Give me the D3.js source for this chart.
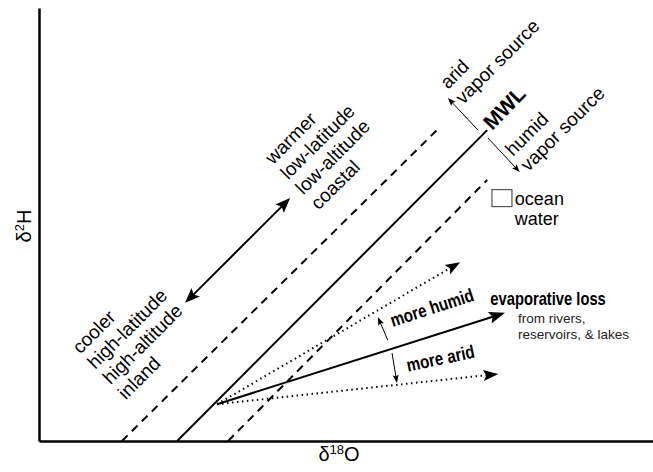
<!DOCTYPE html>
<html>
<head>
<meta charset="utf-8">
<script src="https://cdn.jsdelivr.net/npm/d3@7"></script>
<style>
  body { margin: 0; background: #fff; }
</style>
</head>
<body>
<div id="chart"></div>
<script>
// schematic chart, both axes in arbitrary units 0-100
const mwlLine = [[22.5, 0], [73.0, 71.8]];
const dashedUpper = [[13.5, 0], [65.3, 72.5]];
const dashedLower = [[30.8, 0], [73.0, 60.3]];

const evapOrigin = [29.0, 8.5];
const evapEnd = [75.9, 29.6];
const humidEnd = [68.6, 41.3];
const aridEnd = [74.8, 15.5];

const tempArrow = [[23.8, 31.9], [40.9, 56.1]];
const sourceArrows = [
  [[71.5, 71.8], [66.6, 79.2]],
  [[73.1, 70.0], [78.3, 62.1]]
];
const shiftArrows = [
  [[56.8, 23.3], [55.2, 28.6]],
  [[57.5, 20.3], [58.3, 13.4]]
];
const oceanWater = [75.4, 56.1];

// labels rotated along the MWL direction
const diagLabels = [
  { at: [38.1, 63.7], lines: ['warmer', 'low-latitude', 'low-altitude', 'coastal'] },
  { at: [6.7, 19.9], lines: ['cooler', 'high-latitude', 'high-altitude', 'inland'] },
  { at: [66.6, 81.1], lines: ['arid', 'vapor source'] },
  { at: [77.2, 65.6], lines: ['humid', 'vapor source'] }
];
const mwlLabel = { at: [73.8, 71.6], text: 'MWL' };
const shiftLabels = [
  { at: [57.6, 26.3], angle: -18, text: 'more humid' },
  { at: [60.1, 16.0], angle: -12, text: 'more arid' }
];
const oceanLabel = { at: [77.5, 54.5], lines: ['ocean', 'water'] };
const evapLabel = { at: [73.5, 31.4], text: 'evaporative loss' };
const evapNote = { at: [78.0, 27.3], lines: ['from rivers,', 'reservoirs, & lakes'] };

const width = 653, height = 472;
const margin = { left: 39, top: 8, right: 0, bottom: 31 };

const svg = d3.select('#chart').append('svg')
  .attr('width', width)
  .attr('height', height);

const x = d3.scaleLinear().domain([0, 100]).range([margin.left, width - margin.right]);
const y = d3.scaleLinear().domain([0, 100]).range([height - margin.bottom, margin.top]);
const P = d => [x(d[0]), y(d[1])];

const sans = "'Liberation Sans', Arial, sans-serif";
const squeeze = 0.82; // condensed look for the bold labels

// axes, no ticks
svg.append('g')
  .attr('transform', `translate(${margin.left},0)`)
  .call(d3.axisLeft(y).tickValues([]).tickSizeOuter(0))
  .select('.domain').attr('stroke', '#000').attr('stroke-width', 2.5);
svg.append('g')
  .attr('transform', `translate(0,${height - margin.bottom})`)
  .call(d3.axisBottom(x).tickValues([]).tickSizeOuter(0))
  .select('.domain').attr('stroke', '#000').attr('stroke-width', 2.5);

// axis titles
const yt = svg.append('text')
  .attr('transform', 'translate(31,226) rotate(-90)')
  .attr('text-anchor', 'middle')
  .attr('font-family', sans).attr('font-size', 20);
yt.append('tspan').text('δ');
yt.append('tspan').attr('dy', -7).attr('font-size', 13).text('2');
yt.append('tspan').attr('dy', 7).text('H');

const xt = svg.append('text')
  .attr('x', 339).attr('y', 461)
  .attr('text-anchor', 'middle')
  .attr('font-family', sans).attr('font-size', 20);
xt.append('tspan').text('δ');
xt.append('tspan').attr('dy', -7).attr('font-size', 13).text('18');
xt.append('tspan').attr('dy', 7).text('O');

const line = d3.line().x(d => x(d[0])).y(d => y(d[1]));

// MWL and dashed envelope
svg.append('path').attr('d', line(mwlLine))
  .attr('stroke', '#000').attr('stroke-width', 2).attr('fill', 'none');
[dashedUpper, dashedLower].forEach(l => {
  svg.append('path').attr('d', line(l))
    .attr('stroke', '#000').attr('stroke-width', 2).attr('fill', 'none')
    .attr('stroke-dasharray', '8,6');
});

// arrow helper: line from a to b, head at b (and optionally a)
function arrow(a, b, opt) {
  const p0 = P(a), p1 = P(b);
  const dx = p1[0] - p0[0], dy = p1[1] - p0[1];
  const len = Math.hypot(dx, dy);
  const ux = dx / len, uy = dy / len, nx = -uy, ny = ux;
  const L = opt.len, W = opt.half, N = opt.notch || 0;
  const head = (t, sx, sy) => {
    const bx = t[0] - sx * L, by = t[1] - sy * L;
    return [[t[0], t[1]], [bx + nx * W, by + ny * W],
      [bx + sx * N, by + sy * N], [bx - nx * W, by - ny * W]];
  };
  const s0 = opt.both ? [p0[0] + ux * (L - N - 1), p0[1] + uy * (L - N - 1)] : p0;
  const s1 = [p1[0] - ux * (L - N - 1), p1[1] - uy * (L - N - 1)];
  svg.append('path').attr('d', d3.line()([s0, s1]))
    .attr('stroke', '#000').attr('stroke-width', opt.width)
    .attr('stroke-dasharray', opt.dash || null)
    .attr('fill', 'none');
  const heads = [head(p1, ux, uy)];
  if (opt.both) heads.push(head(p0, -ux, -uy));
  heads.forEach(h => svg.append('path')
    .attr('d', d3.line()(h) + 'Z').attr('fill', '#000'));
}

// evaporation lines
arrow(evapOrigin, evapEnd, { width: 2, len: 16, half: 6, notch: 3 });
arrow(evapOrigin, humidEnd, { width: 2, len: 15, half: 5.5, notch: 3, dash: '1.5,3.5' });
arrow(evapOrigin, aridEnd, { width: 2, len: 15, half: 5.5, notch: 3, dash: '1.5,3.5' });

// temperature double arrow
arrow(tempArrow[0], tempArrow[1], { width: 2, len: 15, half: 6, notch: 3, both: true });

// thin arrows
sourceArrows.concat(shiftArrows).forEach(d => {
  arrow(d[0], d[1], { width: 1, len: 8, half: 3, notch: 1.5 });
});

// ocean water square
const ow = P(oceanWater);
svg.append('rect')
  .attr('x', ow[0] - 10).attr('y', ow[1] - 8.5)
  .attr('width', 20).attr('height', 17)
  .attr('fill', '#fff').attr('stroke', '#555').attr('stroke-width', 1.2);

// rotated multi-line labels
diagLabels.forEach(d => {
  const p = P(d.at);
  const t = svg.append('text')
    .attr('transform', `translate(${p[0]},${p[1]}) rotate(-45)`)
    .attr('font-family', sans).attr('font-size', 19);
  d.lines.forEach((s, i) => {
    t.append('tspan').attr('x', 0).attr('dy', i === 0 ? 0 : 21.5).text(s);
  });
});

const mp = P(mwlLabel.at);
svg.append('text')
  .attr('transform', `translate(${mp[0]},${mp[1]}) rotate(-46)`)
  .attr('font-family', sans).attr('font-weight', 'bold').attr('font-size', 21)
  .text(mwlLabel.text);

shiftLabels.forEach(d => {
  const p = P(d.at);
  svg.append('text')
    .attr('transform', `translate(${p[0]},${p[1]}) rotate(${d.angle}) scale(${squeeze},1)`)
    .attr('font-family', sans).attr('font-weight', 'bold').attr('font-size', 18.5)
    .text(d.text);
});

const op = P(oceanLabel.at);
const ot = svg.append('text').attr('x', op[0]).attr('y', op[1])
  .attr('font-family', sans).attr('font-size', 18);
oceanLabel.lines.forEach((s, i) => {
  ot.append('tspan').attr('x', op[0]).attr('dy', i === 0 ? 0 : 20).text(s);
});

const ep = P(evapLabel.at);
svg.append('text')
  .attr('transform', `translate(${ep[0]},${ep[1]}) scale(${squeeze},1)`)
  .attr('font-family', sans).attr('font-weight', 'bold').attr('font-size', 18)
  .text(evapLabel.text);

const np = P(evapNote.at);
const nt = svg.append('text').attr('x', np[0]).attr('y', np[1])
  .attr('font-family', sans).attr('font-size', 13.5).attr('fill', '#222');
evapNote.lines.forEach((s, i) => {
  nt.append('tspan').attr('x', np[0]).attr('dy', i === 0 ? 0 : 16).text(s);
});
</script>
</body>
</html>
